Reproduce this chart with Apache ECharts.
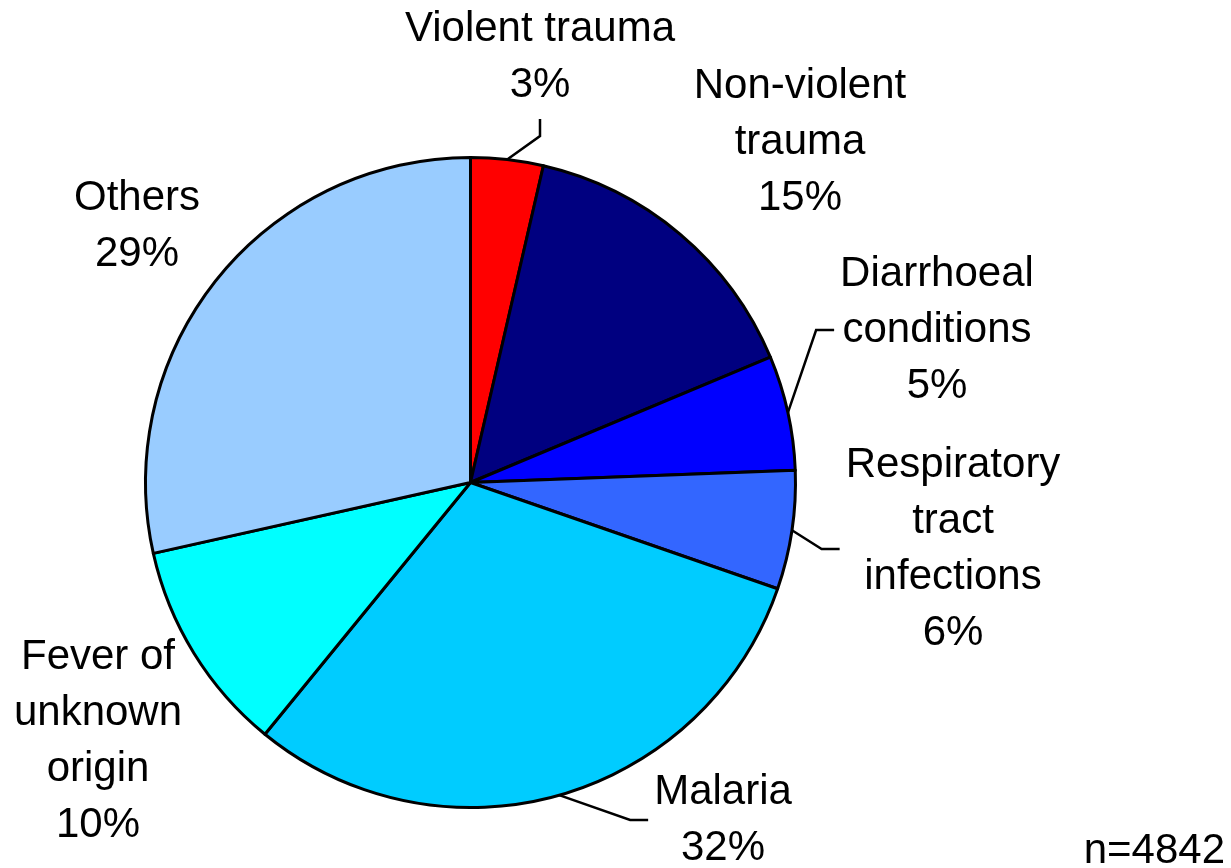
<!DOCTYPE html>
<html>
<head>
<meta charset="utf-8">
<script src="https://cdn.jsdelivr.net/npm/echarts@6/dist/echarts.min.js"></script>
<style>
  html, body { margin: 0; padding: 0; background: #fff; }
  #main { width: 1231px; height: 868px; }
</style>
</head>
<body>
<div id="main"></div>
<script>
// causes, as printed next to the pie (clockwise from 12 o'clock)
const causes = ['Violent trauma', 'Non-violent\ntrauma', 'Diarrhoeal\nconditions', 'Respiratory\ntract\ninfections', 'Malaria', 'Fever of\nunknown\norigin', 'Others'];
// size of each slice
const shares = [3.6, 15.1, 5.7, 5.9, 30.6, 10.6, 28.5];
// percentages printed in the labels
const pctLabels = [3, 15, 5, 6, 32, 10, 29];
const sampleSize = 4842;

const colors = ['#ff0000', '#000080', '#0000ff', '#3366ff', '#00ccff', '#00ffff', '#99ccff'];
// label block centres
const labelPos = [[540, 57], [800, 142], [937, 330], [953, 549], [723, 820], [98, 741], [137, 226]];
// leader line: 'below' = comes up from under the label, 'left' = comes in from the left, null = none
const leader = ['below', null, 'left', 'left', 'left', null, null];

const FONT = '"Liberation Sans", Arial, sans-serif';

const myChart = echarts.init(document.getElementById('main'));

const option = {
    backgroundColor: '#fff',
    animation: false,
    graphic: [{
        type: 'text',
        right: 6,
        top: 830,
        style: {
            text: 'n=' + sampleSize,
            font: '42px ' + FONT,
            fill: '#000'
        }
    }],
    series: [{
        type: 'pie',
        center: [470.5, 482.5],
        radius: 325,
        startAngle: 90,
        clockwise: true,
        avoidLabelOverlap: false,
        itemStyle: {
            borderColor: '#000',
            borderWidth: 3
        },
        label: {
            show: true,
            position: 'outside',
            color: '#000',
            fontFamily: FONT,
            fontSize: 42,
            lineHeight: 56,
            align: 'center',
            formatter: function (p) {
                return p.name + '\n' + pctLabels[p.dataIndex] + '%';
            }
        },
        labelLine: {
            show: true,
            length: 20,
            length2: 20,
            lineStyle: { color: '#000', width: 2.5 }
        },
        labelLayout: function (p) {
            const i = p.dataIndex;
            const pos = labelPos[i];
            const out = { x: pos[0], y: pos[1], align: 'center', verticalAlign: 'middle' };
            const w = p.labelRect.width, h = p.labelRect.height;
            const start = p.labelLinePoints && p.labelLinePoints[0];
            if (start && leader[i] === 'left') {
                const end = [pos[0] - w / 2 - 6, pos[1]];
                out.labelLinePoints = [start, [end[0] - 18, end[1]], end];
            } else if (start && leader[i] === 'below') {
                const end = [pos[0], pos[1] + h / 2 + 6];
                out.labelLinePoints = [start, [end[0], end[1] + 17], end];
            }
            return out;
        },
        data: causes.map(function (name, i) {
            return {
                name: name,
                value: shares[i],
                itemStyle: { color: colors[i] },
                labelLine: { show: leader[i] !== null }
            };
        })
    }]
};
myChart.setOption(option);
</script>
</body>
</html>
